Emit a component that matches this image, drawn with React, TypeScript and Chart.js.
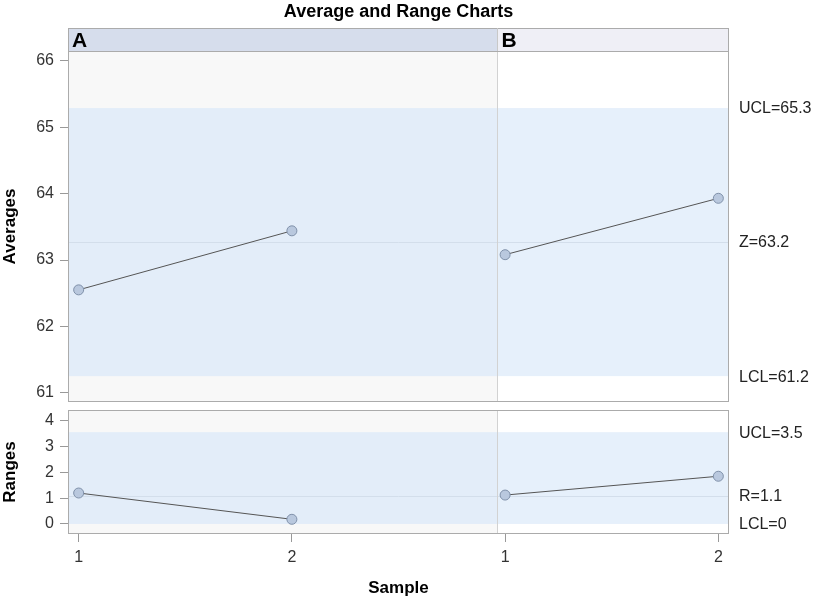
import { useEffect, useRef } from "react";
import { Chart, registerables } from "chart.js";

Chart.register(...registerables);

// samples, in order, grouped by phase
const phases = ["A", "B"];
const samplePhase = ["A", "A", "B", "B"];
const sampleLabels = ["1", "2", "1", "2"];

// subgroup averages and ranges
const averages = [62.55, 63.44, 63.08, 63.93];
const ranges = [1.2, 0.18, 1.12, 1.85];

// control limits: upper, centre, lower
const avgLimits = [65.29, 63.27, 61.25];
const avgLimitLabels = ["UCL=65.3", "Z=63.2", "LCL=61.2"];
const rngLimits = [3.56, 1.09, 0];
const rngLimitLabels = ["UCL=3.5", "R=1.1", "LCL=0"];

// axis ticks
const avgTicks = [61, 62, 63, 64, 65, 66];
const rngTicks = [0, 1, 2, 3, 4];

const FONT = "'Liberation Sans', Arial, sans-serif";
const PHASE_SPLIT = 1.96; // where the B block starts on the sample axis
const X_MIN = -0.05;
const X_MAX = 3.05;

type PanelOpts = {
  limits: number[];
  limitLabels: string[];
  yTitle: string;
  header?: boolean;
  title?: string;
  xTitle?: string;
};

const panelPlugin = (o: PanelOpts) => ({
  id: "panel",
  beforeDatasetsDraw(chart: Chart) {
    const { ctx, chartArea: a } = chart;
    const x = chart.scales.x;
    const y = chart.scales.y;
    const split = Math.round(x.getPixelForValue(PHASE_SPLIT)) + 0.5;
    const yU = y.getPixelForValue(o.limits[0]);
    const yC = Math.round(y.getPixelForValue(o.limits[1])) + 0.5;
    const yL = y.getPixelForValue(o.limits[2]);
    ctx.save();
    // block backgrounds
    ctx.fillStyle = "#f8f8f8";
    ctx.fillRect(a.left, a.top, split - a.left, a.bottom - a.top);
    ctx.fillStyle = "#ffffff";
    ctx.fillRect(split, a.top, a.right - split, a.bottom - a.top);
    // limits band
    ctx.fillStyle = "#e3edf9";
    ctx.fillRect(a.left, yU, split - a.left, yL - yU);
    ctx.fillStyle = "#e6f0fb";
    ctx.fillRect(split, yU, a.right - split, yL - yU);
    // centre line
    ctx.strokeStyle = "#d3deeb";
    ctx.lineWidth = 1;
    ctx.beginPath();
    ctx.moveTo(a.left, yC);
    ctx.lineTo(a.right, yC);
    ctx.stroke();
    // block divider
    ctx.strokeStyle = "#d2d2d2";
    ctx.beginPath();
    ctx.moveTo(split, a.top);
    ctx.lineTo(split, a.bottom);
    ctx.stroke();
    ctx.restore();
  },
  afterDraw(chart: Chart) {
    const { ctx, chartArea: a } = chart;
    const x = chart.scales.x;
    const y = chart.scales.y;
    const split = Math.round(x.getPixelForValue(PHASE_SPLIT)) + 0.5;
    const mid = (a.left + a.right) / 2;
    ctx.save();
    ctx.strokeStyle = "#ababab";
    ctx.lineWidth = 1;
    ctx.strokeRect(Math.round(a.left) + 0.5, Math.round(a.top) + 0.5, Math.round(a.right - a.left) - 1, Math.round(a.bottom - a.top) - 1);

    // limit labels on the right
    ctx.fillStyle = "#222";
    ctx.font = `16px ${FONT}`;
    ctx.textAlign = "left";
    ctx.textBaseline = "middle";
    o.limits.forEach((v, i) => {
      ctx.fillText(o.limitLabels[i], a.right + 10, y.getPixelForValue(v) + 1);
    });

    if (o.header) {
      const top = a.top - 23;
      ctx.fillStyle = "#d6ddec";
      ctx.fillRect(a.left, top, split - a.left, 23);
      ctx.fillStyle = "#efeff6";
      ctx.fillRect(split, top, a.right - split, 23);
      ctx.strokeStyle = "#ababab";
      ctx.strokeRect(Math.round(a.left) + 0.5, top + 0.5, Math.round(a.right - a.left) - 1, 23);
      ctx.strokeStyle = "#c8c8c8";
      ctx.beginPath();
      ctx.moveTo(split, top);
      ctx.lineTo(split, a.top);
      ctx.stroke();
      ctx.fillStyle = "#000";
      ctx.font = `bold 21px ${FONT}`;
      ctx.textBaseline = "alphabetic";
      ctx.fillText(phases[0], a.left + 4, a.top - 4);
      ctx.fillText(phases[1], split + 4, a.top - 4);
    }

    if (o.title) {
      ctx.fillStyle = "#000";
      ctx.font = `bold 18px ${FONT}`;
      ctx.textAlign = "center";
      ctx.textBaseline = "alphabetic";
      ctx.fillText(o.title, mid, 17);
    }

    // y axis title
    ctx.save();
    ctx.translate(15, (a.top + a.bottom) / 2);
    ctx.rotate(-Math.PI / 2);
    ctx.fillStyle = "#000";
    ctx.font = `bold 17px ${FONT}`;
    ctx.textAlign = "center";
    ctx.textBaseline = "alphabetic";
    ctx.fillText(o.yTitle, 0, 0);
    ctx.restore();

    if (o.xTitle) {
      ctx.fillStyle = "#000";
      ctx.font = `bold 17px ${FONT}`;
      ctx.textAlign = "center";
      ctx.textBaseline = "middle";
      ctx.fillText(o.xTitle, mid, a.bottom + 54);
    }
    ctx.restore();
  },
});

const seriesFor = (values: number[]) =>
  phases.map((p) => ({
    label: p,
    data: values
      .map((v, i) => ({ x: i, y: v, p: samplePhase[i] }))
      .filter((d) => d.p === p)
      .map(({ x, y }) => ({ x, y })),
    showLine: true,
    borderColor: "#555",
    borderWidth: 1,
    pointRadius: 5,
    pointBackgroundColor: "#b9c8de",
    pointBorderColor: "#8091aa",
    pointBorderWidth: 1,
  }));

const yAxis = (min: number, max: number, ticks: number[]) => ({
  type: "linear" as const,
  min,
  max,
  afterFit: (s: any) => {
    s.width = 68;
  },
  afterBuildTicks: (s: any) => {
    s.ticks = ticks.map((v) => ({ value: v }));
  },
  border: { display: false },
  grid: { drawOnChartArea: false, drawTicks: true, tickLength: 8, color: "#999" },
  ticks: { color: "#333", padding: 6, font: { size: 16, family: FONT } },
});

const Panel = ({ kind }: { kind: "avg" | "rng" }) => {
  const ref = useRef<HTMLCanvasElement | null>(null);

  useEffect(() => {
    if (!ref.current) return;
    const isAvg = kind === "avg";
    const chart = new Chart(ref.current, {
      type: "scatter",
      data: { datasets: seriesFor(isAvg ? averages : ranges) as any },
      options: {
        animation: false,
        responsive: true,
        maintainAspectRatio: false,
        layout: {
          padding: isAvg
            ? { left: 0, right: 84, top: 51, bottom: 18 }
            : { left: 0, right: 84, top: 24, bottom: 0 },
        },
        plugins: { legend: { display: false }, tooltip: { enabled: false } },
        scales: {
          x: {
            type: "linear",
            min: X_MIN,
            max: X_MAX,
            display: !isAvg,
            afterFit: (s: any) => {
              if (!isAvg) s.height = 64;
            },
            afterBuildTicks: (s: any) => {
              s.ticks = sampleLabels.map((_, i) => ({ value: i }));
            },
            border: { display: false },
            grid: { drawOnChartArea: false, drawTicks: true, tickLength: 8, color: "#999" },
            ticks: {
              color: "#333",
              padding: 6,
              maxRotation: 0,
              font: { size: 16, family: FONT },
              callback: (v: any) => sampleLabels[Number(v)] ?? "",
            },
          },
          y: isAvg ? yAxis(60.86, 66.15, avgTicks) : yAxis(-0.39, 4.42, rngTicks),
        },
      },
      plugins: [
        panelPlugin(
          isAvg
            ? {
                limits: avgLimits,
                limitLabels: avgLimitLabels,
                yTitle: "Averages",
                header: true,
                title: "Average and Range Charts",
              }
            : {
                limits: rngLimits,
                limitLabels: rngLimitLabels,
                yTitle: "Ranges",
                xTitle: "Sample",
              }
        ) as any,
      ],
    });
    return () => chart.destroy();
  }, [kind]);

  return <canvas ref={ref}></canvas>;
};

export default function App() {
  return (
    <div style={{ position: "fixed", left: 0, top: 0, width: 813, height: 598, background: "#fff" }}>
      <div style={{ position: "absolute", left: 0, top: 0, width: 813, height: 420 }}>
        <Panel kind="avg" />
      </div>
      <div style={{ position: "absolute", left: 0, top: 386, width: 813, height: 212 }}>
        <Panel kind="rng" />
      </div>
    </div>
  );
}
